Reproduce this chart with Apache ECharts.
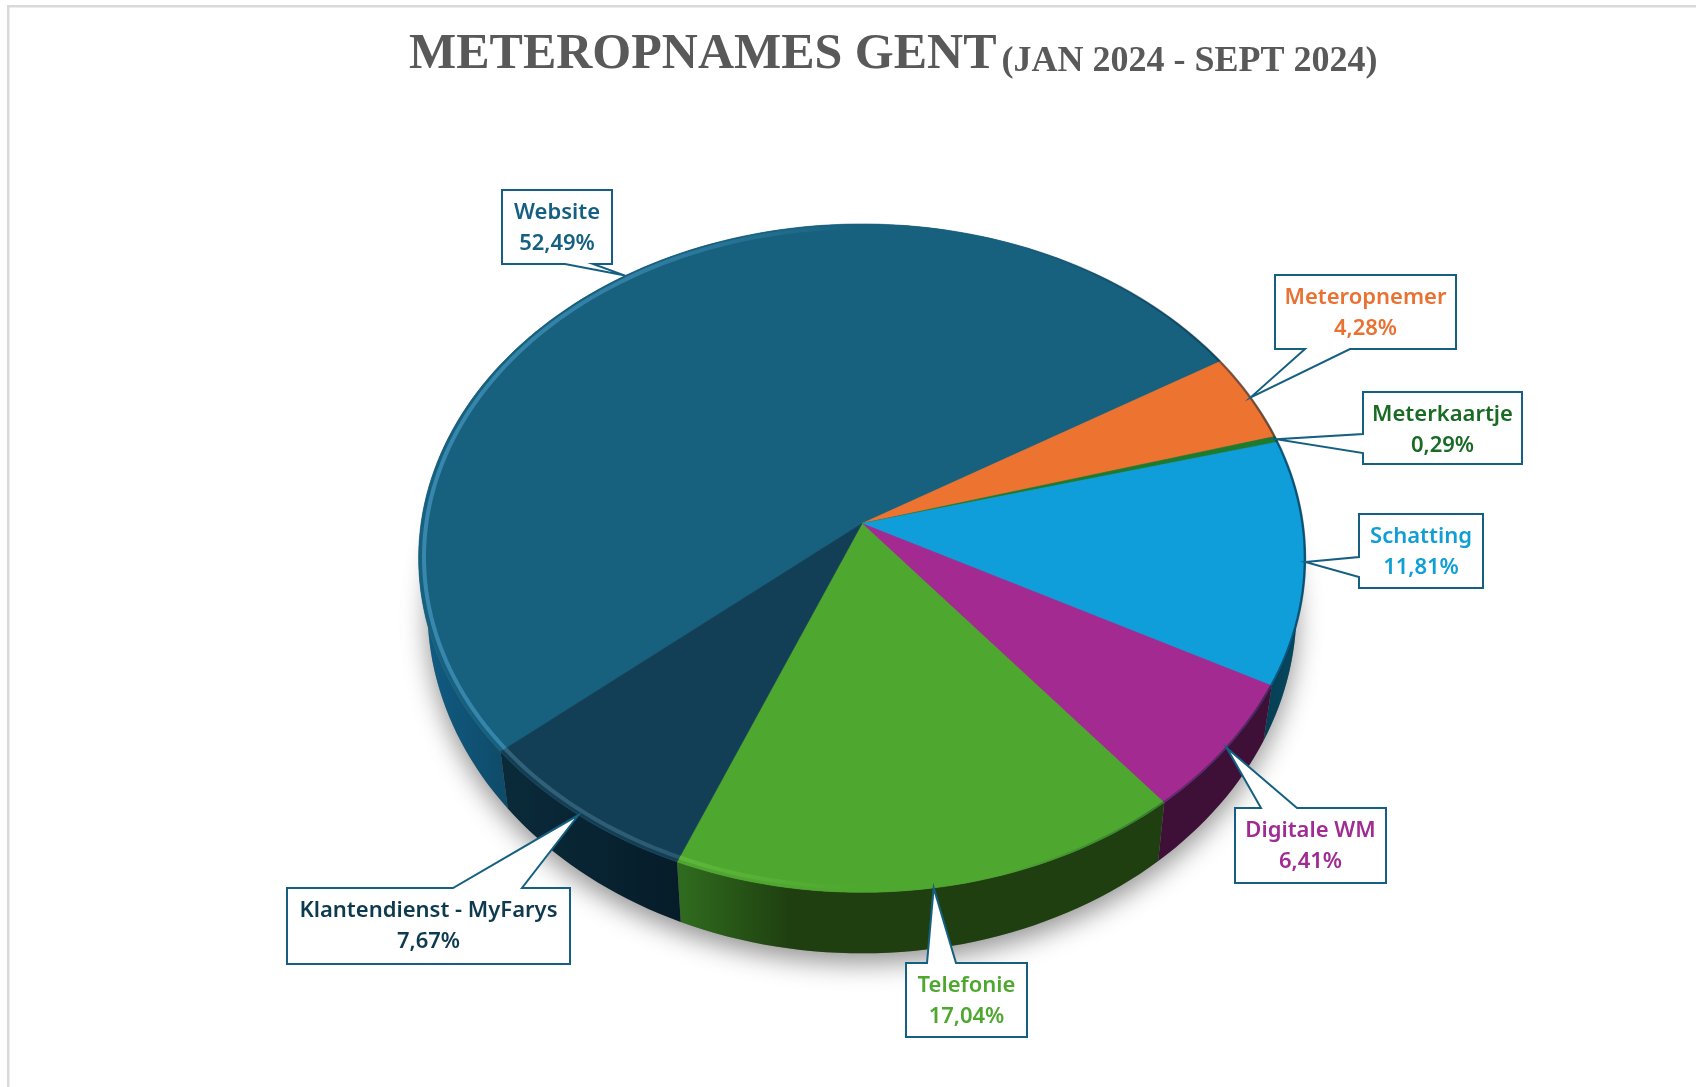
<!DOCTYPE html>
<html>
<head>
<meta charset="utf-8">
<style>html,body{margin:0;padding:0;background:#fff}#c{width:1696px;height:1087px}</style>
<script src="https://cdn.jsdelivr.net/npm/echarts@6/dist/echarts.min.js"></script>
</head>
<body>
<div id="c"></div>
<script>
// ---- data ----
const names = ['Website','Meteropnemer','Meterkaartje','Schatting','Digitale WM','Telefonie','Klantendienst - MyFarys'];
const values = [52.49,4.28,0.29,11.81,6.41,17.04,7.67];
// ---- styles ----
const topColors = ['#17617F','#ED7330','#1E7A2C','#0F9ED9','#A22A90','#4EA72E','#123F55'];
const textColors = ['#156082','#E97132','#196B24','#0F9ED5','#A02B93','#4EA72E','#0D3A4E'];
const wallFrom = ['#105A80','#8A4018','#0E3A14','#063D52','#3E1038','#2F6B1E','#0A2A3A'];
const wallTo   = ['#0F4A68','#8A4018','#0E3A14','#064A60','#3E1038','#1F3F10','#061C29'];
const wallX    = [[430,510],[1200,1300],[1200,1300],[1260,1305],[1155,1265],[682,790],[510,682]];
const rimLight = ['#3D8DB5','#ED7330','#1E7A2C','#0F9ED9','#A22A90','#6CC24A','#3B6A82'];
// ---- layout: callout boxes [x,y,w,h], pointer side and base on that side ----
const boxes = [[502,190,110,74],[1275,275,181,74],[1363,392,159,72],[1359,514,124,74],[1235,808,151,75],[906,963,121,74],[287,888,283,76]];
const pointers = [['bottom',565,593],['bottom',1305,1350],['left',434,453],['left',557,577],['top',1261,1297],['top',927,956],['top',453,522]];
const labelFont = {fontFamily:'"Noto Sans"',fontWeight:600,fontSize:22};

// ---- pie geometry (perspective disc) ----
const CX=862, CY=523.5, A=441, B=330.6, P=0.1036, START=229.9;
const total = values.reduce((s,v)=>s+v,0);
let acc = START; 
const spans = values.map(v=>{const a0=acc; acc+=v/total*360; return [a0,acc];});
function projTop(deg,r){const t=deg*Math.PI/180,x=Math.sin(t)*r,y=Math.cos(t)*r,d=1+P*y;return [CX+A*x/d,CY-B*y/d];}
function projBot(deg){const p=projTop(deg,1);return [CX+(p[0]-CX)*0.98,CY+50+(p[1]-CY)*1.03];}
function arc(fn,a0,a1,r){const n=Math.max(2,Math.ceil((a1-a0)/1.5)),o=[];for(let i=0;i<=n;i++){o.push(fn(a0+(a1-a0)*i/n,r));}return o;}

const wallsRender=(params)=>{const i=params.dataIndex,[a0,a1]=spans[i];
  const pts=arc(projTop,a0,a1,1).concat(arc(projBot,a0,a1).reverse());
  return {type:'polygon',shape:{points:pts},style:{fill:{type:'linear',global:true,x:wallX[i][0],y:0,x2:wallX[i][1],y2:0,colorStops:[{offset:0,color:wallFrom[i]},{offset:1,color:wallTo[i]}]}}};
};
const shadowRender=()=>({type:'polygon',shape:{points:arc(projBot,0,360)},style:{fill:'#888',shadowBlur:26,shadowColor:'rgba(0,0,0,0.42)',shadowOffsetY:10}});
const topsRender=(params)=>{const i=params.dataIndex,[a0,a1]=spans[i];
  const pts=[[CX,CY]].concat(arc(projTop,a0,a1,1));
  return {type:'polygon',shape:{points:pts},style:{fill:topColors[i],stroke:topColors[i],lineWidth:0.6}};
};
const rimRender=(params)=>{const i=params.dataIndex,[a0,a1]=spans[i];
  return {type:'group',children:[
    {type:'polyline',shape:{points:arc(projTop,a0,a1,0.999)},style:{fill:null,lineWidth:2.5,stroke:{type:'linear',global:true,x:1000,y:0,x2:1310,y2:0,colorStops:[{offset:0,color:'rgba(0,30,50,0)'},{offset:1,color:'rgba(0,30,50,0.6)'}]}}},
    {type:'polyline',shape:{points:arc(projTop,a0,a1,0.988)},style:{fill:null,lineWidth:4,stroke:{type:'linear',global:true,x:860,y:0,x2:430,y2:0,colorStops:[{offset:0,color:rimLight[i]+'00'},{offset:0.5,color:rimLight[i]+'aa'},{offset:1,color:rimLight[i]+'dd'}]}}}
  ]};
};
const labelRender=(params)=>{const i=params.dataIndex,[x,y,w,h]=boxes[i],[side,b0,b1]=pointers[i];
  const mid=(spans[i][0]+spans[i][1])/2, tip=projTop(mid,1), r=x+w, bt=y+h; let pts;
  if(side==='top') pts=[[x,y],[b0,y],tip,[b1,y],[r,y],[r,bt],[x,bt]];
  else if(side==='bottom') pts=[[x,y],[r,y],[r,bt],[b1,bt],tip,[b0,bt],[x,bt]];
  else pts=[[x,y],[r,y],[r,bt],[x,bt],[x,b1],tip,[x,b0]];
  const txt=(s,yy)=>({type:'text',style:Object.assign({text:s,x:x+w/2,y:yy,fill:textColors[i],align:'center',verticalAlign:'middle'},labelFont)});
  return {type:'group',children:[
    {type:'polygon',shape:{points:pts},style:{fill:'#fff',stroke:'#156082',lineWidth:2,lineJoin:'miter'}},
    txt(names[i],y+23),
    txt(values[i].toFixed(2).replace('.',',')+'%',y+54)
  ]};
};
const seriesData = names.map((n,i)=>({name:n,value:values[i]}));
const custom=(name,z,render,data)=>({type:'custom',name,coordinateSystem:'none',z,silent:true,animation:false,renderItem:render,data:data||seriesData});

const chart=echarts.init(document.getElementById('c'),null,{renderer:'canvas',width:1696,height:1087});
chart.setOption({
  animation:false,
  backgroundColor:'#fff',
  graphic:[
    {type:'rect',shape:{x:7,y:5,width:1689,height:2.5},style:{fill:'#d9d9d9'},silent:true},
    {type:'rect',shape:{x:7,y:5,width:2.5,height:1082},style:{fill:'#d9d9d9'},silent:true}
  ],
  title:{left:409,top:30,padding:0,
    text:'{a|METEROPNAMES GENT} {b|(JAN 2024 - SEPT 2024)}',
    textStyle:{rich:{
      a:{fontFamily:'"Liberation Sans Narrow"',fontWeight:'bold',fontSize:50,color:'#595959'},
      b:{fontFamily:'"Liberation Sans Narrow"',fontWeight:'bold',fontSize:36,color:'#595959',verticalAlign:'bottom'}
    }}},
  series:[
    custom('shadow',1,shadowRender,[{name:'disc',value:1}]),
    custom('walls',2,wallsRender),
    custom('tops',3,topsRender),
    custom('rim',4,rimRender),
    custom('labels',5,labelRender)
  ]
});
</script>
</body>
</html>
